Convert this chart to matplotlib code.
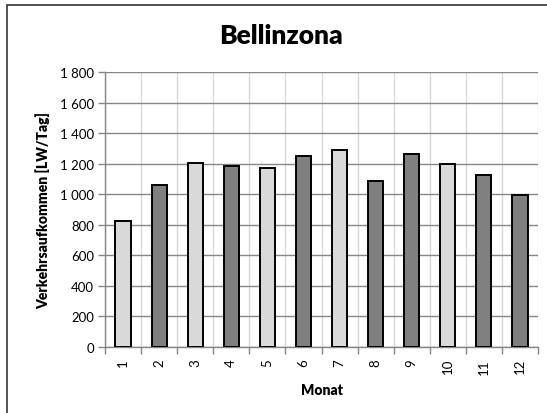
import matplotlib
matplotlib.use("Agg")
import matplotlib.pyplot as plt
from matplotlib.patches import Rectangle
from matplotlib.ticker import FuncFormatter, MultipleLocator, FixedLocator
import numpy as np

months = ["1", "2", "3", "4", "5", "6", "7", "8", "9", "10", "11", "12"]
values = [822, 1059, 1204, 1182, 1169, 1250, 1292, 1086, 1261, 1197, 1127, 993]
light = [True, False, True, False, True, False, True, False, False, True, False, False]
yticks = [0, 200, 400, 600, 800, 1000, 1200, 1400, 1600, 1800]

plt.rcParams['font.family'] = ['Lato', 'DejaVu Sans']

fig = plt.figure(figsize=(5.47, 4.14), dpi=100)
ax = fig.add_axes([105/547, 1-348/414, (538-105)/547, (348-73)/414])

x = np.arange(1, len(months)+1)
colors = ['#d9d9d9' if l else '#808080' for l in light]
ax.bar(x, values, width=0.42, color=colors, edgecolor='black', linewidth=1.4, zorder=3)

ax.set_xlim(0.5, 12.5)
ax.set_ylim(0, 1800)
ax.yaxis.set_major_locator(FixedLocator(yticks))
ax.yaxis.set_major_formatter(FuncFormatter(lambda v, p: f"{int(v):,}".replace(",", " ")))
ax.set_xticks(x)
ax.set_xticklabels(months, rotation=90, fontsize=9.5)
ax.tick_params(axis='x', length=0, pad=8)
ax.xaxis.set_minor_locator(FixedLocator(np.arange(0.5, 13, 1)))
ax.tick_params(axis='x', which='minor', length=5, color='#868686', width=1)
ax.tick_params(axis='y', length=5, color='#868686', width=1, labelsize=9.5, pad=3)

ax.grid(axis='y', which='major', color='#868686', linewidth=1.0, zorder=0)
ax.grid(axis='x', which='minor', color='#d9d9d9', linewidth=1.0, zorder=0)
ax.set_axisbelow(True)
for s in ['top', 'right']:
    ax.spines[s].set_visible(False)
for s in ['left', 'bottom']:
    ax.spines[s].set_color('#868686')
    ax.spines[s].set_linewidth(1.0)

ax.set_xlabel("Monat", fontsize=10, fontweight='heavy', labelpad=7)
ax.set_ylabel("Verkehrsaufkommen [LW/Tag]", fontsize=10, fontweight='heavy', labelpad=7)
fig.text(281/547, 1-36/414, "Bellinzona", ha='center', va='center', fontsize=19, fontweight='heavy')

fig.patches.append(Rectangle((7/547, -0.1), 1.1, 1-6/414+0.1, transform=fig.transFigure,
                             fill=False, edgecolor='#333333', linewidth=1.2))

fig.savefig("out.png", dpi=100)
